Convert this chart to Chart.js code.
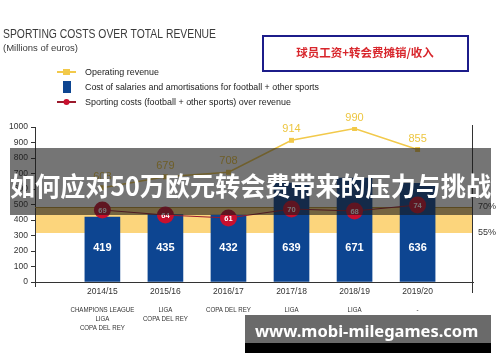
<!DOCTYPE html>
<html>
<head>
<meta charset="utf-8">
<script src="https://cdn.jsdelivr.net/npm/chart.js@4.4.1/dist/chart.umd.min.js"></script>
<style>
  html, body { margin: 0; padding: 0; background: #fff; }
  #wrap { width: 500px; height: 362px; }
</style>
</head>
<body>
<div id="wrap"><canvas id="myChart" width="500" height="362"></canvas></div>
<script>
// seasons along the x-axis
var seasons = ['2014/15', '2015/16', '2016/17', '2017/18', '2018/19', '2019/20'];
// trophies won, printed under each season
var trophies = [
  ['CHAMPIONS LEAGUE', 'LIGA', 'COPA DEL REY'],
  ['LIGA', 'COPA DEL REY'],
  ['COPA DEL REY'],
  ['LIGA', 'COPA DEL REY'],
  ['LIGA'],
  ['-']
];
// millions of euros
var operatingRevenue = [608, 679, 708, 914, 990, 855];
var salaryCosts = [419, 435, 432, 639, 671, 636];
// sporting costs over revenue, %
var sportingRatio = [69, 64, 61, 70, 68, 74];
// recommended zone on the right axis
var targetBand = [55, 70];
var ratioTicks = [55, 70];
var leftTicks = [0, 100, 200, 300, 400, 500, 600, 700, 800, 900, 1000];

var FONT = '"Liberation Sans Narrow", "Liberation Sans", Arial, sans-serif';
var CJK = '"Noto Sans CJK SC", "Noto Sans", sans-serif';

function pts(arr) {
  return arr.map(function (v, i) { return { x: i, y: v }; });
}

// squeeze text a bit, the original uses a condensed face
function narrowText(c, t, x, y, k) {
  c.fillText(t, x, y, c.measureText(t).width * (k || 0.83));
}

var extras = {
  id: 'extras',
  beforeDatasetsDraw: function (chart) {
    var c = chart.ctx, a = chart.chartArea, y1 = chart.scales.y1;
    var top = y1.getPixelForValue(targetBand[1]);
    var bot = y1.getPixelForValue(targetBand[0]);
    c.save();
    c.fillStyle = '#fcd57c';
    c.fillRect(a.left + 1, top, a.right - a.left - 1, bot - top);
    c.strokeStyle = '#b8912e';
    c.lineWidth = 1;
    c.beginPath();
    c.moveTo(a.left, top + 0.5);
    c.lineTo(a.right, top + 0.5);
    c.stroke();
    c.restore();
  },
  afterDatasetsDraw: function (chart) {
    var c = chart.ctx, x = chart.scales.x, y = chart.scales.y;
    var revMeta = chart.getDatasetMeta(1);
    var ratioMeta = chart.getDatasetMeta(2);
    c.save();
    c.textAlign = 'center';
    c.textBaseline = 'middle';
    // bar values
    c.fillStyle = '#ffffff';
    c.font = 'bold 11px ' + FONT;
    salaryCosts.forEach(function (v, i) {
      c.fillText(String(v), x.getPixelForValue(i), y.getPixelForValue(0) - 34);
    });
    // revenue labels
    c.fillStyle = '#edc640';
    c.font = '11px ' + FONT;
    revMeta.data.forEach(function (p, i) {
      c.fillText(String(operatingRevenue[i]), p.x, p.y - 11);
    });
    // ratio labels
    c.fillStyle = '#ffffff';
    c.font = 'bold 7.5px ' + FONT;
    ratioMeta.data.forEach(function (p, i) {
      c.fillText(String(sportingRatio[i]), p.x, p.y + 0.5);
    });
    // trophies
    c.fillStyle = '#333';
    c.font = '7.5px ' + FONT;
    trophies.forEach(function (list, i) {
      list.forEach(function (t, j) {
        narrowText(c, t, x.getPixelForValue(i), 310 + j * 9.2, 0.82);
      });
    });
    c.restore();
  },
  afterDraw: function (chart) {
    var c = chart.ctx, a = chart.chartArea;
    var ds = chart.data.datasets;
    c.save();
    // axis extensions below the x axis
    c.strokeStyle = '#333';
    c.lineWidth = 1;
    c.beginPath();
    c.moveTo(a.left + 0.5, a.bottom); c.lineTo(a.left + 0.5, a.bottom + 5);
    c.moveTo(a.right - 0.5, a.top - 2); c.lineTo(a.right - 0.5, a.bottom + 11);
    c.stroke();

    // title
    c.textAlign = 'left';
    c.textBaseline = 'middle';
    c.fillStyle = '#3a3a3a';
    c.font = '12.5px ' + FONT;
    c.fillText('SPORTING COSTS OVER TOTAL REVENUE', 3, 35, 213);
    c.font = '9.5px ' + FONT;
    c.fillText('(Millions of euros)', 3, 48, 78);

    // legend
    var ly = [72, 87, 102];
    c.font = '9.5px ' + FONT;
    c.fillStyle = '#222';
    c.fillText(ds[1].label, 85, ly[0], 74);
    c.fillText(ds[0].label, 85, ly[1], 234);
    c.fillText(ds[2].label, 85, ly[2], 206);
    c.strokeStyle = ds[1].borderColor;
    c.lineWidth = 2;
    c.beginPath(); c.moveTo(57, ly[0]); c.lineTo(76, ly[0]); c.stroke();
    c.fillStyle = ds[1].borderColor;
    c.fillRect(63, ly[0] - 3, 7, 6);
    c.fillStyle = ds[0].backgroundColor;
    c.fillRect(63, ly[1] - 6, 8, 12);
    c.strokeStyle = ds[2].borderColor;
    c.beginPath(); c.moveTo(57, ly[2]); c.lineTo(76, ly[2]); c.stroke();
    c.fillStyle = ds[2].pointBackgroundColor;
    c.beginPath(); c.arc(66.5, ly[2], 3, 0, Math.PI * 2); c.fill();

    // red note box
    c.fillStyle = '#fff';
    c.fillRect(263, 36, 205, 35);
    c.strokeStyle = '#1c1c8a';
    c.lineWidth = 2;
    c.strokeRect(263, 36, 205, 35);
    c.fillStyle = '#d8262c';
    c.textAlign = 'center';
    c.font = 'bold 11.5px ' + CJK;
    c.fillText('球员工资+转会费摊销/收入', 365, 53, 148);

    // banner over the chart
    c.fillStyle = 'rgba(25,25,25,0.6)';
    c.fillRect(10, 148, 481, 67);
    c.fillStyle = '#ffffff';
    c.font = 'bold 26.5px ' + CJK;
    c.textAlign = 'left';
    c.fillText('如何应对50万欧元转会费带来的压力与挑战', 10, 186, 481);

    // site strip
    c.fillStyle = '#6a6a6a';
    c.fillRect(245, 315, 246, 28);
    c.fillStyle = '#000';
    c.fillRect(245, 343, 246, 10);
    c.fillStyle = '#fff';
    c.font = 'bold 16.5px "Noto Sans", "DejaVu Sans", sans-serif';
    c.fillText('www.mobi-milegames.com', 255, 332, 225);
    c.restore();
  }
};

var ctx = document.getElementById('myChart');
var myChart = new Chart(ctx, {
  type: 'bar',
  data: {
    datasets: [
      {
        type: 'bar',
        label: 'Cost of salaries and amortisations for football + other sports',
        data: pts(salaryCosts),
        backgroundColor: '#0d4591',
        barThickness: 35,
        yAxisID: 'y',
        order: 3
      },
      {
        type: 'line',
        label: 'Operating revenue',
        data: pts(operatingRevenue),
        borderColor: '#f2c94a',
        backgroundColor: '#f2c94a',
        borderWidth: 1.5,
        pointStyle: 'rect',
        pointRadius: 3.5,
        pointBackgroundColor: '#f2c94a',
        pointBorderWidth: 0,
        yAxisID: 'y',
        order: 2
      },
      {
        type: 'line',
        label: 'Sporting costs (football + other sports) over revenue',
        data: pts(sportingRatio),
        borderColor: '#9b1a2c',
        borderWidth: 1.2,
        pointRadius: 8.5,
        pointBackgroundColor: '#c8102e',
        pointBorderWidth: 0,
        yAxisID: 'y2',
        order: 1
      }
    ]
  },
  options: {
    responsive: false,
    animation: false,
    layout: { padding: { top: 127, left: 0, right: 0, bottom: 0 } },
    plugins: {
      legend: { display: false },
      tooltip: { enabled: false }
    },
    scales: {
      x: {
        type: 'linear',
        min: -0.49,
        max: 5.3,
        afterFit: function (s) { s.height = 80; },
        afterBuildTicks: function (s) {
          s.ticks = seasons.map(function (n, i) { return { value: i }; });
        },
        ticks: {
          callback: function (v) { return seasons[v]; },
          color: '#333',
          font: { family: FONT, size: 8.5 },
          padding: 5,
          maxRotation: 0
        },
        grid: { display: false, drawTicks: false },
        border: { color: '#333', width: 1 }
      },
      y: {
        position: 'left',
        min: 0,
        max: 1000,
        afterFit: function (s) { s.width = 35; },
        afterBuildTicks: function (s) {
          s.ticks = leftTicks.map(function (v) { return { value: v }; });
        },
        ticks: {
          callback: function (v) { return String(v); },
          color: '#333',
          font: { family: FONT, size: 8.5 },
          padding: 3
        },
        grid: { drawOnChartArea: false, tickLength: 4, color: '#333' },
        border: { color: '#333', width: 1 }
      },
      y1: {
        position: 'right',
        min: 26.7,
        max: 116.2,
        afterFit: function (s) { s.width = 27; },
        afterBuildTicks: function (s) {
          s.ticks = ratioTicks.map(function (v) { return { value: v }; });
        },
        ticks: {
          callback: function (v) { return v + '%'; },
          color: '#333',
          font: { family: FONT, size: 9 },
          padding: 5
        },
        grid: { display: false, drawTicks: false },
        border: { display: false }
      },
      y2: {
        display: false,
        min: -3,
        max: 152
      }
    }
  },
  plugins: [extras]
});
</script>
</body>
</html>
